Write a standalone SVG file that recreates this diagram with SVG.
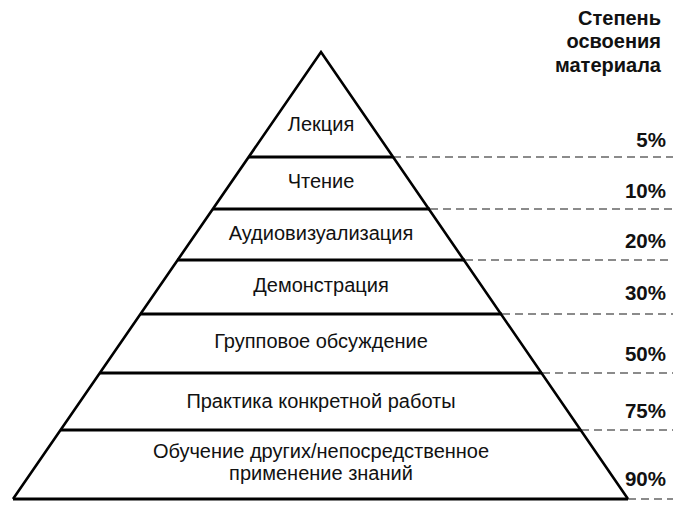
<svg xmlns="http://www.w3.org/2000/svg" width="689" height="506" viewBox="0 0 689 506">
<style>
.edge{fill:none;stroke:#000;stroke-width:2.6;stroke-linejoin:miter}
.lvl{stroke:#000;stroke-width:3}
.dash{stroke:#666;stroke-width:1.6;stroke-dasharray:8 5}
.lbl{font-family:"Liberation Sans",Arial,sans-serif;font-size:20px;fill:#111;text-anchor:middle}
.pct{font-family:"Liberation Sans",Arial,sans-serif;font-size:20.5px;font-weight:bold;fill:#111;text-anchor:end}
.hdr{font-family:"Liberation Sans",Arial,sans-serif;font-size:20px;font-weight:bold;fill:#111;text-anchor:end}
</style>
<rect width="689" height="506" fill="#fff"/>
<g id="connectors">
<line class="dash" x1="393" y1="157" x2="673" y2="157"/>
<line class="dash" x1="430" y1="209" x2="673" y2="209"/>
<line class="dash" x1="465" y1="260" x2="673" y2="260"/>
<line class="dash" x1="502" y1="314" x2="673" y2="314"/>
<line class="dash" x1="542" y1="373" x2="673" y2="373"/>
<line class="dash" x1="581" y1="430" x2="673" y2="430"/>
<line class="dash" x1="628" y1="499" x2="673" y2="499"/>
</g>
<g id="pyramid">
<line class="lvl" x1="249" y1="157" x2="393" y2="157"/>
<line class="lvl" x1="213" y1="209" x2="430" y2="209"/>
<line class="lvl" x1="177" y1="260" x2="465" y2="260"/>
<line class="lvl" x1="140" y1="314" x2="502" y2="314"/>
<line class="lvl" x1="100" y1="373" x2="542" y2="373"/>
<line class="lvl" x1="61" y1="430" x2="581" y2="430"/>
<line class="lvl" x1="13" y1="499" x2="628" y2="499"/>
<polyline class="edge" points="13,499 321,52 628,499"/>
</g>
<g id="level1"><text class="lbl" x="321" y="131">Лекция</text></g>
<g id="level2"><text class="lbl" x="321" y="188">Чтение</text></g>
<g id="level3"><text class="lbl" x="321" y="240">Аудиовизуализация</text></g>
<g id="level4"><text class="lbl" x="321" y="292">Демонстрация</text></g>
<g id="level5"><text class="lbl" x="321" y="348">Групповое обсуждение</text></g>
<g id="level6"><text class="lbl" x="321" y="408">Практика конкретной работы</text></g>
<g id="level7"><text class="lbl" x="321" y="458">Обучение других/непосредственное</text><text class="lbl" x="321" y="480">применение знаний</text></g>
<g id="header"><text class="hdr" x="661" y="25">Степень</text><text class="hdr" x="661" y="48">освоения</text><text class="hdr" x="661" y="72">материала</text></g>
<g id="percents">
<text class="pct" x="666" y="147">5%</text>
<text class="pct" x="666" y="198">10%</text>
<text class="pct" x="666" y="248">20%</text>
<text class="pct" x="666" y="300">30%</text>
<text class="pct" x="666" y="361">50%</text>
<text class="pct" x="666" y="418">75%</text>
<text class="pct" x="666" y="486">90%</text>
</g>
</svg>
